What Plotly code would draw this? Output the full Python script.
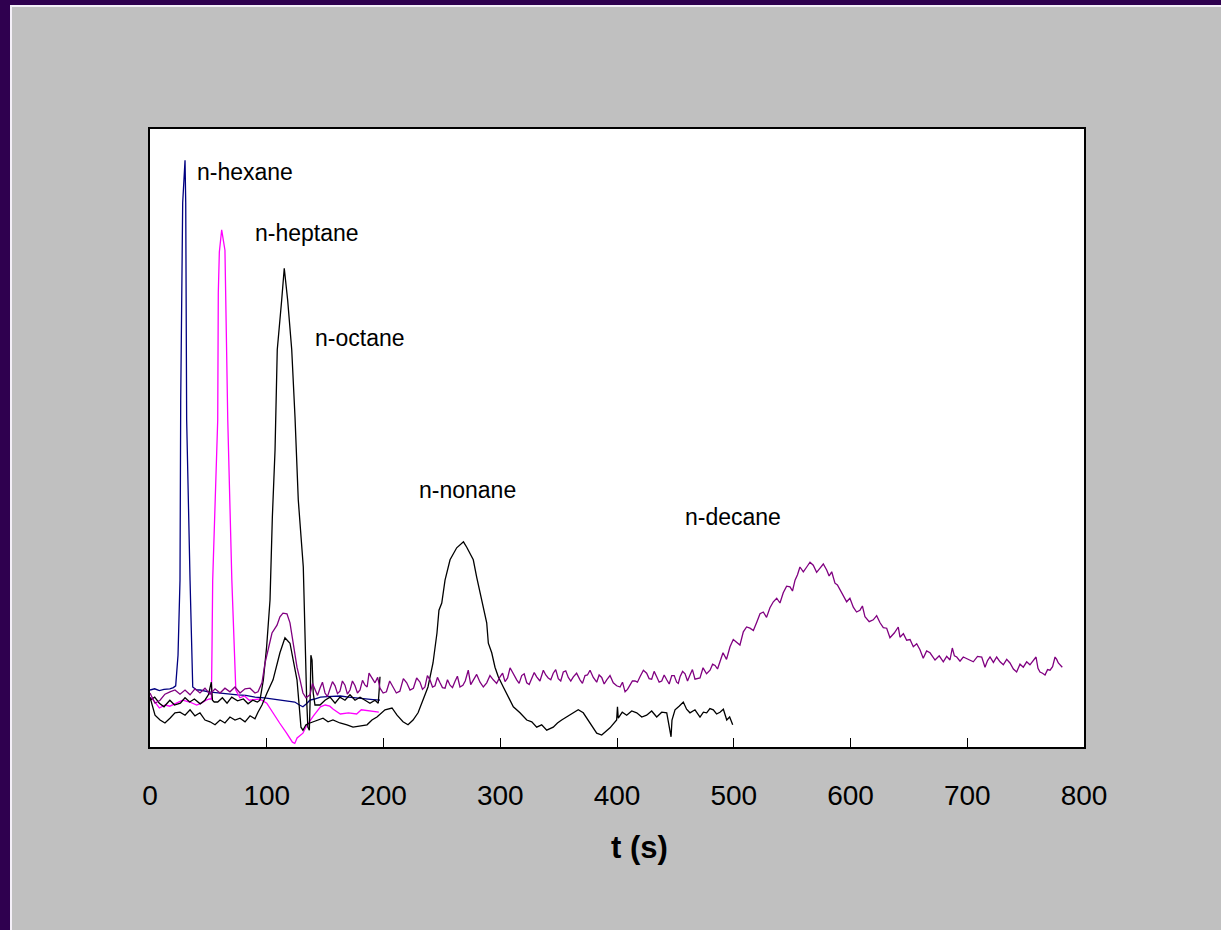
import plotly.graph_objects as go

# ---------------- data (time in s, detector signal in arbitrary units) ----------------
hexane_t = [0, 4, 8, 12, 17, 20, 22, 24, 25.7, 26.3, 28.0, 29.5, 30.0, 30.6, 31.4, 34.3, 35.7, 36.6,
            40, 43, 50, 58, 66, 75, 82, 90, 98, 106, 113, 119, 124, 128, 131, 134, 137, 141, 146,
            152, 158, 163, 170, 175, 180, 186, 191, 197]
hexane_v = [9.5, 9.7, 9.4, 9.6, 9.7, 9.9, 10.2, 15.3, 27.8, 57.8, 90.7, 97.0, 97.8, 90.7, 54.5, 27.8, 16.2, 10.0,
            9.5, 9.5, 9.2, 9.0, 8.8, 8.7, 8.6, 8.3, 8.2, 8.0, 7.8, 7.6, 7.5, 7.0, 6.7, 7.2, 7.8, 8.0, 8.3,
            8.4, 8.5, 8.5, 8.3, 8.2, 8.0, 7.9, 7.9, 7.8]

heptane_t = [0, 3, 8, 13, 17, 22, 28, 34, 40, 44, 48, 51, 52.6, 53.1, 53.7, 58.0, 58.5, 59.4, 61.4, 64.2,
             65.7, 66.6, 70.1, 72.3, 73.5, 77, 81, 85, 90, 94, 100, 105, 111, 117, 122, 124, 126, 131,
             134, 140, 146, 150, 154, 157, 163, 170, 177, 181, 188, 192, 196]
heptane_v = [8.3, 7.8, 6.5, 7.0, 6.8, 7.3, 7.8, 7.5, 7.0, 7.3, 7.8, 8.0, 8.0, 16.2, 27.8, 54.5, 75.7, 82.5, 86.2, 82.8,
             62.8, 54.5, 27.8, 16.2, 9.5, 8.2, 8.5, 7.8, 7.9, 8.0, 7.3, 5.7, 4.0, 2.3, 0.8, 0.6, 1.5, 2.3,
             3.5, 5.2, 6.7, 7.0, 6.8, 6.3, 5.5, 5.7, 5.5, 6.2, 6.0, 5.9, 5.8]

octane_t = [0, 4, 8, 12, 17, 21, 26, 30, 34, 38, 43, 47, 50, 52.5, 53.5, 55, 58, 62, 66, 70, 75, 80, 84, 88,
            92, 94.2, 97.1, 99.9, 102.8, 104.8, 107.1, 109.0, 112.8, 115.0, 117.9, 121.4, 124.2, 127.0,
            131.3, 132.8, 134.2, 135.2, 136.5, 137.3, 137.8, 138.8, 139.8, 141.3, 145.6, 149.9, 154.2,
            158.5, 162.7, 167.0, 171.3, 175.6, 179.9, 184.2, 188.4, 192.7, 195.5, 196.3, 197.0]
octane_v = [7.8, 8.3, 7.3, 6.7, 7.8, 7.0, 7.3, 8.2, 7.5, 8.0, 7.2, 7.8, 8.7, 10.8, 7.8, 7.5, 7.5, 8.2, 7.3, 8.3,
            7.7, 8.0, 7.2, 7.8, 7.5, 7.8, 11.2, 16.7, 24.5, 38.3, 49.5, 66.2, 74.5, 79.8, 74.5, 66.2, 55.0,
            41.2, 30.0, 16.7, 7.8, 3.3, 2.8, 9.0, 15.3, 14.5, 9.0, 7.0, 7.0, 7.8, 8.3, 7.3, 8.3, 7.8, 8.7,
            7.8, 8.3, 7.8, 7.3, 7.8, 7.3, 9.5, 11.7]

nonane_t = [0, 1.7, 4.3, 8.6, 12.8, 17.1, 21.4, 25.7, 30.0, 34.3, 38.5, 42.8, 47.1, 51.4, 55.7, 60.0, 64.2,
            68.5, 72.8, 77.1, 81.4, 85.7, 89.9, 92.5, 95.9, 100.2, 105.4, 111.3, 115.6, 119.9, 122.5,
            125.9, 127.6, 129.3, 131.0, 133.6, 137.0, 143.0, 148.2, 152.5, 156.7, 162.7, 168.7, 173.9,
            179.9, 185.9, 190.1, 194.4, 201.3, 207.3, 211.6, 216.7, 221.0, 225.3, 229.6, 233.8, 238.1,
            242.4, 245.8, 247.5, 249.9, 252.7, 257.0, 262.7, 265.5, 268.5, 271.3, 274.1, 276.9, 279.8,
            282.7, 285.5, 288.4, 289.8, 292.7, 295.5, 298.3, 302.6, 306.9, 311.2, 316.9, 322.7, 327.0,
            331.2, 335.5, 339.8, 345.4, 349.0, 352.6, 359.7, 366.8, 371.1, 376.9, 382.6, 386.9, 390.5,
            394.0, 399.7, 400.4, 401.1, 404.5, 408.3, 412.6, 416.9, 421.2, 425.4, 429.7, 434.0, 438.3,
            442.6, 446.3, 447.1, 449.7, 453.2, 456.8, 459.6, 462.5, 466.8, 471.1, 474.0, 476.8, 479.6,
            482.5, 485.3, 488.2, 491.1, 494.0, 496.5, 499.1]
nonane_v = [8.3, 7.0, 5.3, 4.5, 4.0, 4.8, 5.7, 5.8, 5.3, 6.2, 5.2, 5.7, 4.5, 4.2, 3.7, 4.5, 4.0,
            5.0, 4.5, 4.8, 4.2, 5.2, 4.7, 5.8, 7.0, 9.0, 11.2, 15.7, 18.2, 17.3, 14.5,
            11.2, 7.3, 3.3, 2.8, 3.7, 4.0, 4.5, 4.8, 4.2, 4.5, 4.0, 3.7, 3.3,
            3.5, 3.7, 4.5, 5.0, 6.2, 6.5, 5.3, 4.2, 3.7, 4.5, 5.7, 7.8, 10.0,
            14.0, 19.0, 22.8, 24.0, 27.8, 31.2, 33.2, 33.7, 34.2, 33.3, 32.3, 31.2, 28.3,
            25.7, 22.8, 20.7, 17.3, 15.7, 13.3, 11.7, 10.0, 8.3, 6.7, 5.7, 4.5, 4.2,
            3.3, 3.7, 2.8, 3.3, 4.0, 4.5, 5.3, 6.2, 5.7, 4.0, 2.3, 2.0, 2.6,
            3.2, 4.5, 6.7, 4.8, 5.8, 5.3, 6.0, 5.7, 5.0, 5.3, 6.0, 5.0, 5.8,
            5.7, 1.7, 4.5, 6.2, 6.8, 7.5, 6.3, 5.7, 6.2, 5.0, 5.8, 5.7, 6.4,
            6.2, 5.5, 5.8, 6.3, 4.5, 5.0, 3.7]

decane_t = [0, 2.6, 4.3, 8.6, 12.8, 17.1, 21.4, 25.7, 30.0, 34.3,
            38.5, 42.8, 47.1, 51.4, 55.7, 60.0, 64.2, 68.5, 72.8, 77.1,
            81.4, 85.7, 89.9, 92.5, 95.9, 98.5, 101.1, 104.5, 108.8, 111.3,
            113.9, 117.3, 119.9, 122.5, 125.9, 128.5, 131.0, 133.6, 137.0, 139.2,
            141.3, 143.5, 145.6, 147.7, 149.9, 152.0, 154.2, 156.3, 158.5, 160.6,
            162.7, 164.8, 167.0, 169.1, 171.3, 173.4, 175.6, 177.7, 179.9, 182.0,
            184.2, 186.0, 187.6, 190.1, 192.7, 195.0, 197.0, 199.7, 202.5, 205.3,
            208.1, 211.0, 214.0, 217.0, 219.9, 222.7, 225.6, 228.4, 231.3, 233.4,
            235.5, 237.6, 239.8, 242.0, 244.1, 246.2, 248.4, 250.5, 252.7, 254.8,
            257.0, 259.1, 261.2, 263.3, 265.5, 268.0, 270.0, 272.6, 274.7, 276.9,
            279.8, 282.7, 285.5, 288.4, 291.2, 294.0, 296.9, 299.8, 302.0, 304.1,
            306.3, 308.4, 311.2, 314.1, 316.2, 318.4, 320.5, 322.7, 324.8, 327.0,
            329.1, 331.2, 334.0, 336.9, 339.0, 341.1, 343.3, 345.4, 347.5, 349.7,
            351.8, 354.0, 356.1, 358.3, 360.4, 362.6, 365.4, 368.3, 370.4, 372.6,
            374.7, 376.9, 379.7, 382.6, 384.7, 386.9, 389.0, 391.2, 394.0, 396.8,
            399.7, 402.6, 404.7, 406.9, 409.0, 411.1, 413.2, 415.4, 417.5, 419.7,
            422.6, 425.4, 427.5, 429.7, 431.8, 434.0, 436.1, 438.3, 440.4, 442.6,
            444.7, 446.9, 449.0, 451.1, 452.5, 454.0, 456.2, 458.3, 460.4, 462.5,
            464.6, 466.8, 469.0, 471.1, 473.7, 476.7, 479.7, 481.9, 484.0, 486.1,
            488.2, 489.5, 490.8, 493.8, 496.8, 499.6, 502.5, 505.3, 508.2, 511.0,
            513.9, 516.8, 519.7, 522.5, 525.3, 528.1, 531.0, 533.9, 536.8, 539.6,
            542.4, 545.3, 548.2, 550.3, 552.5, 554.6, 556.7, 559.6, 562.5, 565.3,
            568.1, 571.0, 573.9, 576.7, 579.6, 581.7, 583.9, 586.7, 588.8, 591.0,
            593.8, 596.7, 599.5, 602.4, 605.2, 608.1, 610.2, 612.4, 616.0, 619.5,
            622.4, 625.3, 628.1, 631.0, 633.8, 637.5, 640.9, 642.4, 645.3, 648.1,
            651.0, 653.8, 656.7, 659.5, 662.3, 665.2, 668.1, 670.3, 672.4, 676.0,
            679.5, 682.4, 685.2, 687.2, 689.0, 691.0, 693.8, 696.6, 700.9, 705.2,
            708.8, 712.4, 715.2, 717.4, 719.5, 722.4, 725.2, 728.1, 730.9, 733.8,
            736.6, 739.5, 742.3, 745.2, 748.0, 750.9, 753.7, 756.3, 758.9, 760.6,
            762.3, 764.5, 766.6, 768.8, 770.9, 773.1, 775.2, 776.6, 778.0, 781.4]
decane_v = [9.0, 7.8, 7.3, 7.8, 8.8, 9.2, 9.5, 8.8, 9.5, 8.7,
            9.7, 9.0, 9.8, 8.8, 9.7, 9.0, 9.8, 9.2, 10.0, 9.0,
            9.7, 9.8, 9.0, 9.2, 10.7, 14.0, 16.2, 19.0, 20.3, 21.7,
            22.3, 22.2, 20.7, 17.8, 13.3, 11.2, 9.0, 8.2, 8.7, 10.6,
            9.5, 8.6, 9.8, 10.8, 9.0, 8.4, 9.7, 10.9, 10.2, 8.9,
            9.3, 11.0, 10.3, 8.8, 9.5, 11.0, 10.2, 9.0, 9.5, 11.1,
            10.3, 10.0, 12.3, 11.5, 10.7, 11.6, 9.8, 9.0, 9.2, 11.0,
            10.0, 9.0, 9.3, 11.4, 10.7, 9.5, 9.8, 11.5, 10.8, 9.6,
            10.0, 11.9, 11.2, 10.0, 10.2, 11.6, 10.7, 9.9, 9.8, 11.2,
            10.3, 9.9, 10.9, 11.8, 10.0, 10.3, 11.0, 12.8, 10.4, 11.2,
            12.1, 10.8, 10.0, 10.7, 11.9, 11.2, 10.6, 11.7, 12.3, 10.9,
            11.5, 13.2, 12.1, 11.2, 10.6, 11.9, 12.2, 10.7, 10.4, 11.6,
            12.4, 11.7, 11.0, 12.8, 12.0, 11.5, 11.2, 12.3, 12.9, 11.4,
            11.0, 12.5, 12.7, 11.6, 11.0, 11.7, 12.3, 11.2, 10.6, 11.9,
            12.0, 12.8, 11.6, 10.8, 12.0, 11.6, 10.5, 11.2, 11.9, 10.7,
            10.2, 10.0, 10.8, 9.2, 9.6, 10.3, 11.0, 11.0, 10.8, 11.7,
            12.8, 12.3, 11.4, 11.3, 12.6, 11.7, 10.8, 11.0, 12.0, 11.2,
            10.5, 11.9, 11.9, 10.8, 10.6, 11.7, 12.6, 12.2, 11.0, 12.0,
            12.9, 11.3, 11.4, 11.5, 13.2, 12.2, 12.8, 13.8, 13.6, 13.0,
            14.2, 14.9, 15.7, 14.6, 16.7, 17.9, 17.5, 17.0, 19.2, 20.0,
            19.8, 19.4, 20.8, 22.2, 22.5, 21.6, 23.2, 24.2, 24.8, 24.0,
            25.7, 26.8, 26.7, 26.0, 27.8, 28.7, 30.0, 29.2, 30.0, 30.8,
            30.3, 29.1, 29.8, 30.5, 29.5, 28.5, 29.2, 27.3, 27.0, 26.2,
            25.2, 24.2, 24.8, 23.3, 22.5, 22.8, 23.5, 21.7, 20.9, 21.2,
            21.9, 20.7, 19.9, 19.8, 18.2, 19.0, 20.0, 18.3, 18.9, 17.8,
            17.9, 16.7, 17.2, 16.2, 14.8, 16.0, 15.7, 15.1, 14.5, 15.2,
            14.2, 15.1, 14.5, 16.5, 15.2, 15.0, 14.3, 15.0, 14.6, 14.2,
            15.1, 15.0, 13.3, 14.4, 15.0, 14.1, 15.0, 14.2, 13.7, 14.6,
            14.0, 13.0, 12.5, 13.8, 13.3, 14.2, 13.7, 14.4, 15.0, 13.1,
            12.5, 12.3, 12.0, 12.9, 12.8, 13.4, 15.0, 14.6, 14.0, 13.3]

tick_vals = [0, 100, 200, 300, 400, 500, 600, 700, 800]
tick_text = ["0", "100", "200", "300", "400", "500", "600", "700", "800"]

labels = ["n-hexane", "n-heptane", "n-octane", "n-nonane", "n-decane"]
label_t = [38.5, 88.5, 139.3, 228.4, 456.8]
label_v = [95.8, 85.7, 68.2, 42.8, 38.4]

# ---------------- figure ----------------
fig = go.Figure()
series = [
    (hexane_t, hexane_v, "#000080", "n-hexane"),
    (heptane_t, heptane_v, "#FF00FF", "n-heptane"),
    (octane_t, octane_v, "#000000", "n-octane"),
    (nonane_t, nonane_v, "#000000", "n-nonane"),
    (decane_t, decane_v, "#800080", "n-decane"),
]
for t, v, c, name in series:
    fig.add_trace(go.Scatter(x=t, y=v, mode="lines", name=name,
                             line=dict(color=c, width=1.3), showlegend=False))

FONT = "Liberation Sans, Arial, sans-serif"
for txt, tx, ty in zip(labels, label_t, label_v):
    fig.add_annotation(x=tx, y=ty, xref="x", yref="y", text=txt, showarrow=False,
                       xanchor="left", yanchor="middle",
                       font=dict(family=FONT, size=23, color="#000000"))

fig.add_annotation(x=0.5246, y=-0.1634, xref="paper", yref="paper", text="<b>t (s)</b>",
                   showarrow=False, xanchor="center", yanchor="middle",
                   font=dict(family=FONT, size=31, color="#000000"))

DARK = "#2F004F"
shapes = [
    dict(type="rect", xref="paper", yref="paper", x0=-0.25, x1=-0.14989, y0=-0.4, y1=1.35,
         fillcolor=DARK, line=dict(width=0), layer="below"),
    dict(type="rect", xref="paper", yref="paper", x0=-0.25, x1=1.3, y0=1.20065, y1=1.35,
         fillcolor=DARK, line=dict(width=0), layer="below"),
    dict(type="rect", xref="paper", yref="paper", x0=-0.14989, x1=-0.14775, y0=-0.4, y1=1.20065,
         fillcolor="#F4F0F8", line=dict(width=0), layer="below"),
    dict(type="rect", xref="paper", yref="paper", x0=-0.14989, x1=1.3, y0=1.19741, y1=1.20065,
         fillcolor="#F4F0F8", line=dict(width=0), layer="below"),
]

fig.update_layout(
    width=1221, height=930,
    margin=dict(l=150, r=137, t=129, b=183, pad=0),
    paper_bgcolor="#C0C0C0",
    plot_bgcolor="#FFFFFF",
    font=dict(family=FONT, color="#000000"),
    shapes=shapes,
    xaxis=dict(range=[0, 800], tickmode="array", tickvals=tick_vals, ticktext=tick_text,
               ticks="inside", ticklen=9, tickwidth=1, tickcolor="#000000",
               showline=True, mirror=True, linecolor="#000000", linewidth=1.5,
               showgrid=False, zeroline=False,
               tickfont=dict(family=FONT, size=28, color="#000000"),
               ticklabelstandoff=23),
    yaxis=dict(range=[0, 103], showticklabels=False, ticks="",
               showline=True, mirror=True, linecolor="#000000", linewidth=1.5,
               showgrid=False, zeroline=False),
)

fig.write_html("out.html")
